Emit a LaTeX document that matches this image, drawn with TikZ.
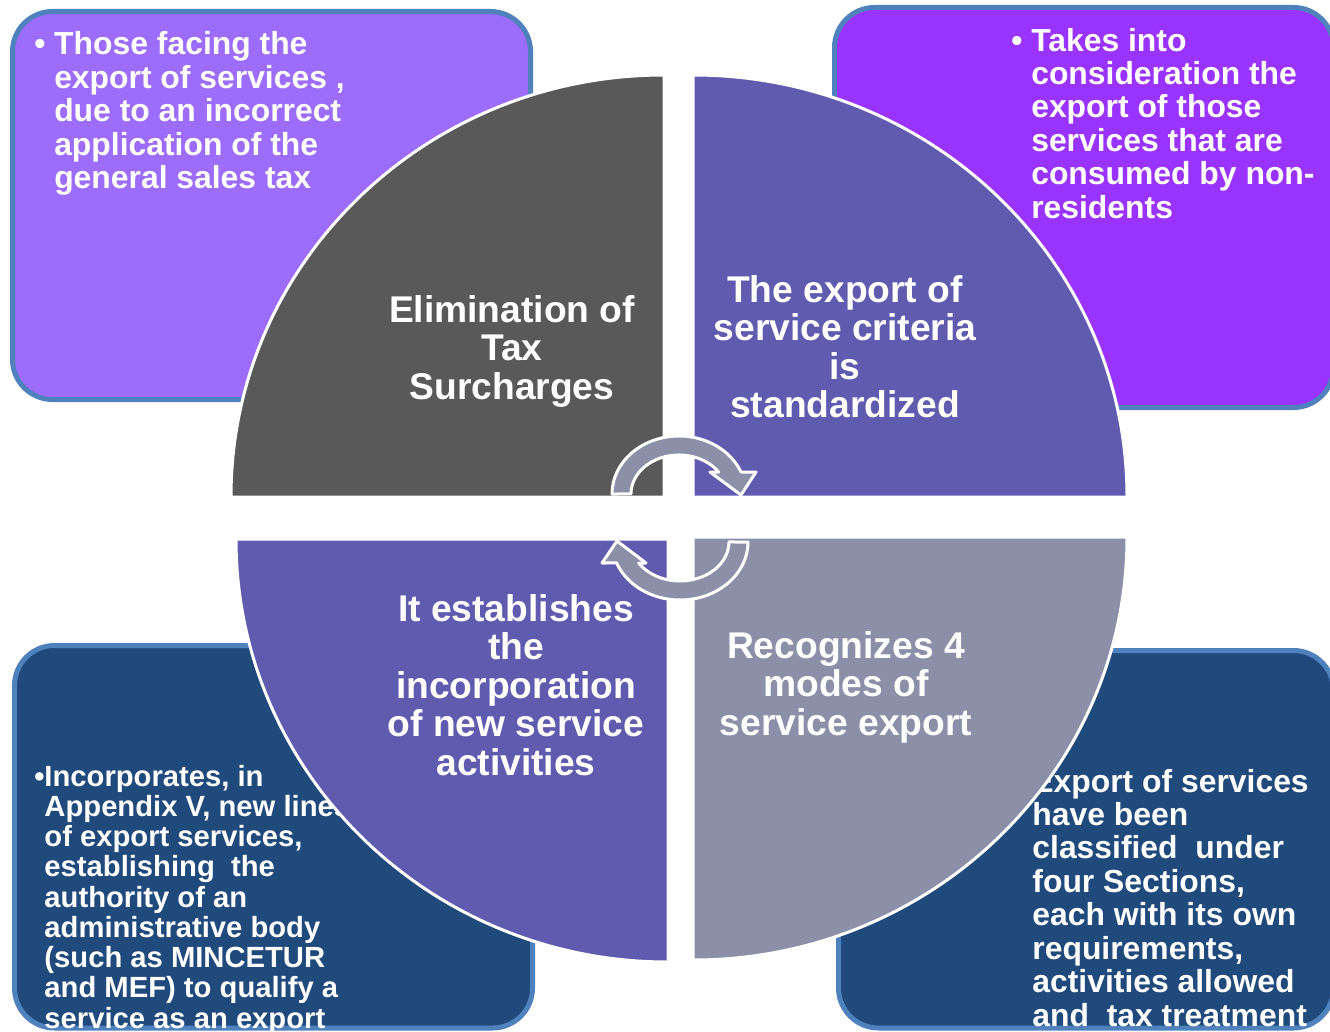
\documentclass[tikz,border=0pt]{standalone}
\usepackage{fontspec}
\setmainfont{Liberation Sans}
\definecolor{boxborder}{HTML}{4F81BD}
\definecolor{tlfill}{HTML}{9C6CFA}
\definecolor{trfill}{HTML}{9933FF}
\definecolor{dbfill}{HTML}{204A7C}
\definecolor{qdark}{HTML}{595959}
\definecolor{qpurple}{HTML}{5F5BAF}
\definecolor{qgray}{HTML}{8B90A8}
\newcommand\hangbul[1]{\setbox0\hbox{#1}\hangindent=\wd0 \hangafter=1 \noindent\box0 }
\begin{document}
\begin{tikzpicture}[x=0.75pt,y=-0.75pt,
  boxline/.style={line width=3.75pt,draw=boxborder,rounded corners=30pt},
  quad/.style={draw=white,line width=2.25pt},
  arr/.style={draw=white,line width=2.25pt,fill=qgray,line join=round},
  boxtxt/.style={inner sep=0pt,anchor=base west,text=white,font=\bfseries},
  quadtxt/.style={inner sep=0pt,anchor=base,text=white,font=\bfseries}]
\useasboundingbox (0,0) rectangle (1330,1031);
\clip (0,0) rectangle (1330,1031);
% corner boxes
\path[boxline,fill=tlfill] (12.5,11.5) rectangle (530.5,399.5);
\path[boxline,fill=trfill] (834.5,7.5) rectangle (1333.5,407.5);
\path[boxline,fill=dbfill] (14.5,645.5) rectangle (532.5,1028);
\path[boxline,fill=dbfill] (838.5,650.5) rectangle (1333.5,1028);
% box texts
\node[boxtxt] (tltext) at (34,55) {\parbox[t]{480pt}{\fontsize{23.9pt}{25.1pt}\selectfont
  \hangbul{•\ }Those facing the\newline export of services ,\newline due to an incorrect\newline application of the\newline general sales tax}};
\node[boxtxt] (trtext) at (1011,51) {\parbox[t]{480pt}{\fontsize{23.9pt}{25.1pt}\selectfont
  \hangbul{•\ }Takes into\newline consideration the\newline export of those\newline services that are\newline consumed by non-\newline residents}};
\node[boxtxt] (bltext) at (34,786) {\parbox[t]{480pt}{\fontsize{21.9pt}{22.7pt}\selectfont
  \hangbul{•}Incorporates, in\newline Appendix V, new lines\newline of export services,\newline establishing\ \ the\newline authority of an\newline administrative body\newline (such as MINCETUR\newline and MEF) to qualify a\newline service as an export}};
\node[boxtxt] (brtext) at (1021,792) {\parbox[t]{480pt}{\fontsize{23.9pt}{25.1pt}\selectfont
  \hangbul{•}Export of services\newline have been\newline classified\ \ under\newline four Sections,\newline each with its own\newline requirements,\newline activities allowed\newline and\ \ tax treatment}};
% quadrants
\path[quad,fill=qdark] (664,497) -- (231,497) arc[start angle=180,end angle=270,x radius=433,y radius=422] -- cycle;
\path[quad,fill=qpurple] (693,497) -- (693,75) arc[start angle=270,end angle=360,x radius=434,y radius=422] -- cycle;
\path[quad,fill=qpurple] (668,539) -- (236,539) arc[start angle=180,end angle=90,x radius=432,y radius=423] -- cycle;
\path[quad,fill=qgray] (693,537) -- (1127,537) arc[start angle=0,end angle=90,x radius=434,y radius=423] -- cycle;
% quadrant texts
\node[quadtxt] (q1) at (512,322) {\parbox[t]{300pt}{\centering\fontsize{27.9pt}{28.9pt}\selectfont Elimination of\\Tax\\Surcharges}};
\node[quadtxt] (q2) at (845,302) {\parbox[t]{300pt}{\centering\fontsize{27.9pt}{28.9pt}\selectfont The export of\\service criteria\\is\\standardized}};
\node[quadtxt] (q3) at (516,621) {\parbox[t]{300pt}{\centering\fontsize{27.9pt}{28.9pt}\selectfont It establishes\\the\\incorporation\\of new service\\activities}};
\node[quadtxt] (q4) at (846,658) {\parbox[t]{300pt}{\centering\fontsize{27.9pt}{28.9pt}\selectfont Recognizes 4\\modes of\\service export}};
% circular arrows
\path[arr] (612,494) arc[start angle=180,end angle=337.7,x radius=67,y radius=58] -- (756,472) -- (741,495) -- (710,472) -- (718.6,472) arc[start angle=325.7,end angle=180,x radius=48,y radius=39] -- cycle;
\path[arr] (748,542) arc[start angle=0,end angle=158.8,x radius=68,y radius=58] -- (602,563) -- (617,541) -- (646,563) -- (638.7,563) arc[start angle=147.4,end angle=0,x radius=49,y radius=39] -- cycle;
\end{tikzpicture}
\end{document}
